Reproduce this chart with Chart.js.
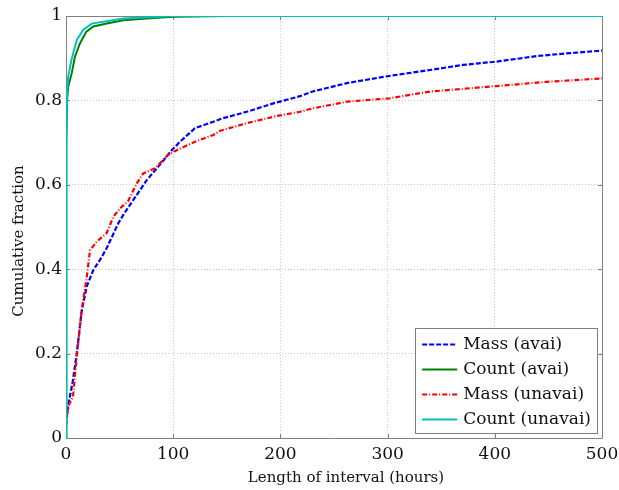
<!DOCTYPE html>
<html>
<head>
<meta charset="utf-8">
<script src="https://cdn.jsdelivr.net/npm/chart.js@4/dist/chart.umd.min.js"></script>
<style>
  html, body { margin: 0; padding: 0; background: #fff; }
  #c { display: block; }
</style>
</head>
<body>
<canvas id="c" width="619" height="490"></canvas>
<script>
// Cumulative fraction of interval lengths (hours)
const massAvaiHours = [0, 1, 3, 6.5, 10, 14.6, 19.3, 25.5, 31.7, 38, 48.8, 55, 62.8, 75.3, 86.1, 98.6, 106.3, 120.3, 146.7, 168.6, 193.4, 218.3, 230, 262, 299, 339.5, 370, 401.8, 439, 470, 500];
const massAvaiFrac  = [0.03, 0.06, 0.09, 0.137, 0.2, 0.30, 0.359, 0.398, 0.422, 0.45, 0.509, 0.535, 0.564, 0.611, 0.643, 0.682, 0.702, 0.734, 0.758, 0.773, 0.793, 0.81, 0.821, 0.841, 0.857, 0.872, 0.884, 0.892, 0.905, 0.912, 0.918];

const countAvaiHours = [0, 0.3, 1, 2, 5.3, 8.4, 13, 19, 25.5, 38, 53.5, 75, 100, 150, 324];
const countAvaiFrac  = [0, 0.70, 0.80, 0.832, 0.864, 0.904, 0.935, 0.963, 0.975, 0.982, 0.99, 0.994, 0.998, 1.0, 1.0];

const massUnavaiHours = [0, 0.6, 3, 6.5, 10, 14.6, 19, 22.4, 28.6, 38, 44.1, 50.4, 58.1, 65.9, 72.1, 83, 95.4, 103.2, 120.3, 137.4, 143.7, 168.6, 196.5, 218.3, 230, 262, 302, 339.5, 401.8, 448, 500];
const massUnavaiFrac  = [0.03, 0.05, 0.08, 0.098, 0.193, 0.303, 0.374, 0.445, 0.465, 0.486, 0.524, 0.544, 0.562, 0.603, 0.627, 0.639, 0.671, 0.682, 0.702, 0.718, 0.728, 0.746, 0.763, 0.773, 0.781, 0.797, 0.805, 0.821, 0.834, 0.844, 0.852];

const countUnavaiHours = [0, 0.3, 1, 2, 5, 10, 16, 24, 53.5, 100, 500];
const countUnavaiFrac  = [0, 0.72, 0.82, 0.856, 0.895, 0.943, 0.967, 0.982, 0.994, 1.0, 1.0];

const seriesNames = ['Mass (avai)', 'Count (avai)', 'Mass (unavai)', 'Count (unavai)'];
const xTickValues = [0, 100, 200, 300, 400, 500];
const yTickLabels = ['0', '0.2', '0.4', '0.6', '0.8', '1'];
const xTitle = 'Length of interval (hours)';
const yTitle = 'Cumulative fraction';

const FONT = '"DejaVu Serif", serif';

function pts(xs, ys) { return xs.map((x, i) => ({ x: x, y: ys[i] })); }

// Box frame and inward tick marks, drawn under the curves
const framePlugin = {
  id: 'frame',
  beforeDatasetsDraw(chart) {
    const { ctx, chartArea: a, scales } = chart;
    ctx.save();
    ctx.strokeStyle = '#808080';
    ctx.lineWidth = 1;
    ctx.beginPath();
    ctx.rect(Math.round(a.left) + 0.5, Math.round(a.top) + 0.5,
             Math.round(a.right - a.left), Math.round(a.bottom - a.top));
    ctx.stroke();
    const tl = 4;
    ctx.beginPath();
    scales.x.ticks.forEach(t => {
      const px = Math.round(scales.x.getPixelForValue(t.value)) + 0.5;
      ctx.moveTo(px, a.bottom); ctx.lineTo(px, a.bottom - tl);
      ctx.moveTo(px, a.top); ctx.lineTo(px, a.top + tl);
    });
    scales.y.ticks.forEach(t => {
      const py = Math.round(scales.y.getPixelForValue(t.value)) + 0.5;
      ctx.moveTo(a.left, py); ctx.lineTo(a.left + tl, py);
      ctx.moveTo(a.right, py); ctx.lineTo(a.right - tl, py);
    });
    ctx.stroke();
    ctx.restore();
  }
};

// Axis titles
const titlePlugin = {
  id: 'axisTitles',
  afterDraw(chart) {
    const { ctx, chartArea: a } = chart;
    ctx.save();
    ctx.fillStyle = '#111';
    ctx.font = '15px ' + FONT;
    ctx.textAlign = 'center';
    ctx.textBaseline = 'middle';
    ctx.fillText(xTitle, (a.left + a.right) / 2 + 12, 478);
    ctx.translate(19, (a.top + a.bottom) / 2 + 14);
    ctx.rotate(-Math.PI / 2);
    ctx.fillText(yTitle, 0, 0);
    ctx.restore();
  }
};

// Legend box in the lower right corner of the plot
const legendPlugin = {
  id: 'boxLegend',
  afterDraw(chart) {
    const { ctx, chartArea: a } = chart;
    const rowH = 25, sample = 35, gap = 6, padX = 7, padY = 4;
    ctx.save();
    ctx.font = '17px ' + FONT;
    const textW = Math.max(...chart.data.datasets.map(d => ctx.measureText(d.label).width));
    const w = padX + sample + gap + textW + 6;
    const h = padY * 2 + rowH * chart.data.datasets.length - 3;
    const right = a.right - 5, bottom = a.bottom - 5;
    const left = right - w, top = bottom - h;
    ctx.fillStyle = '#fff';
    ctx.fillRect(left, top, w, h);
    ctx.strokeStyle = '#808080';
    ctx.lineWidth = 1;
    ctx.strokeRect(Math.round(left) + 0.5, Math.round(top) + 0.5, Math.round(w), Math.round(h));
    chart.data.datasets.forEach((d, i) => {
      const cy = Math.round(top + padY + 12 + i * rowH) + 0.5;
      ctx.strokeStyle = d.borderColor;
      ctx.lineWidth = d.borderWidth;
      ctx.setLineDash(d.borderDash || []);
      ctx.beginPath();
      ctx.moveTo(left + padX, cy);
      ctx.lineTo(left + padX + sample, cy);
      ctx.stroke();
      ctx.setLineDash([]);
      ctx.fillStyle = '#111';
      ctx.textBaseline = 'middle';
      ctx.textAlign = 'left';
      ctx.fillText(d.label, left + padX + sample + gap, cy);
    });
    ctx.restore();
  }
};

new Chart(document.getElementById('c'), {
  type: 'line',
  data: {
    datasets: [
      { label: seriesNames[0], data: pts(massAvaiHours, massAvaiFrac),
        borderColor: '#0000ff', borderWidth: 2.2, borderDash: [5, 2], order: 4 },
      { label: seriesNames[1], data: pts(countAvaiHours, countAvaiFrac),
        borderColor: '#008000', borderWidth: 2, order: 3 },
      { label: seriesNames[2], data: pts(massUnavaiHours, massUnavaiFrac),
        borderColor: '#ff0000', borderWidth: 2.2, borderDash: [5, 2, 1, 2], order: 2 },
      { label: seriesNames[3], data: pts(countUnavaiHours, countUnavaiFrac),
        borderColor: '#00bfbf', borderWidth: 2, order: 1 }
    ]
  },
  options: {
    responsive: false,
    animation: false,
    devicePixelRatio: 1,
    parsing: false,
    layout: { padding: { top: 16, right: 17, left: 0, bottom: 0 } },
    elements: { point: { radius: 0 }, line: { tension: 0, fill: false } },
    plugins: { legend: { display: false }, tooltip: { enabled: false } },
    scales: {
      x: {
        type: 'linear', min: 0, max: 500,
        afterBuildTicks(s) { s.ticks = xTickValues.map(v => ({ value: v })); },
        afterFit(s) { s.height = 52; s.paddingLeft = 0; s.paddingRight = 0; },
        ticks: { color: '#111', font: { family: FONT, size: 17 }, padding: 6, maxRotation: 0 },
        grid: { color: '#c8c8c8', lineWidth: 1, drawTicks: false },
        border: { display: false, dash: [1, 2] },
        title: { display: false }
      },
      y: {
        type: 'linear', min: 0, max: 1,
        afterBuildTicks(s) { s.ticks = yTickLabels.map(l => ({ value: parseFloat(l) })); },
        afterFit(s) { s.width = 66; s.paddingTop = 0; s.paddingBottom = 0; },
        ticks: { color: '#111', font: { family: FONT, size: 17 }, padding: 4,
                 callback: (v, i) => yTickLabels[i] },
        grid: { color: '#c8c8c8', lineWidth: 1, drawTicks: false },
        border: { display: false, dash: [1, 2] },
        title: { display: false }
      }
    }
  },
  plugins: [framePlugin, titlePlugin, legendPlugin]
});
</script>
</body>
</html>
